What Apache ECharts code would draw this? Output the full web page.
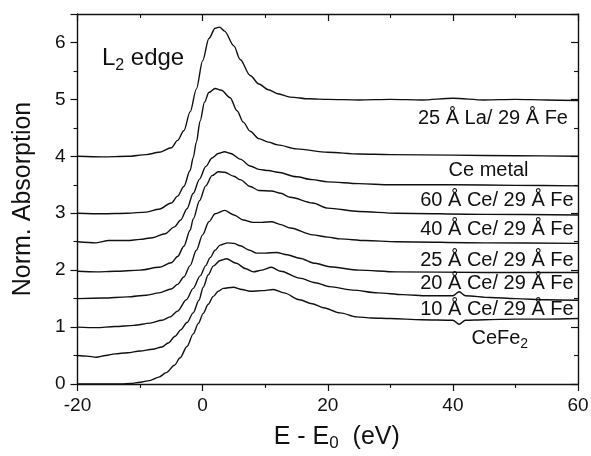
<!DOCTYPE html>
<html><head><meta charset="utf-8">
<script src="https://cdn.jsdelivr.net/npm/echarts@6/dist/echarts.min.js"></script>
<style>html,body{margin:0;padding:0;background:#fff}#c{width:591px;height:456px}</style>
</head><body><div id="c"></div>
<script>
// ---- data (E - E0 in eV, normalized absorption incl. vertical offsets) ----
const la25 = [[-20,4.0],[-16,3.99],[-12,4.0],[-9,4.03],[-7,4.07],[-5,4.15],[-4,4.28],[-3,4.45],[-2,4.78],[-1,5.18],[0,5.68],[1,6.07],[2,6.25],[2.7,6.27],[3.5,6.2],[5,5.94],[6,5.7],[7.6,5.42],[9,5.27],[10.5,5.17],[12,5.1],[14,5.04],[17,5.01],[20,5.0],[25,4.99],[30,5.0],[35,4.99],[40,5.02],[45,4.99],[50,5.0],[55,4.99],[60,4.98]];
const ceMetal = [[-20,3.0],[-16,2.99],[-12,3.0],[-9,3.02],[-7,3.07],[-5,3.18],[-4,3.3],[-3,3.47],[-2,3.75],[-1.5,3.98],[-1,4.25],[-0.4,4.62],[0.3,4.95],[1,5.12],[2,5.19],[3,5.16],[4.4,5.03],[5.5,4.8],[6.5,4.6],[7.6,4.44],[9,4.31],[10.5,4.25],[12,4.2],[15,4.13],[20,4.07],[25,4.04],[30,4.03],[40,4.02],[50,4.01],[60,4.0]];
const ce60 = [[-20,2.5],[-17,2.48],[-15,2.52],[-12,2.52],[-10,2.54],[-8,2.57],[-6,2.64],[-4.5,2.76],[-3.5,2.88],[-2.5,3.08],[-1.5,3.35],[-0.5,3.6],[0.5,3.82],[1.5,3.97],[2.5,4.05],[3.5,4.08],[4.5,4.05],[6,3.95],[7.6,3.83],[9,3.77],[10.5,3.75],[12,3.72],[15,3.64],[17.5,3.59],[20,3.55],[25,3.52],[30,3.5],[40,3.5],[50,3.49],[60,3.48]];
const ce40 = [[-20,1.98],[-17,1.97],[-14,1.98],[-10,2.0],[-7,2.05],[-5,2.13],[-4,2.24],[-3,2.42],[-2,2.7],[-1.5,2.9],[-0.5,3.22],[0.5,3.48],[1.5,3.66],[2.5,3.73],[3.5,3.72],[5,3.65],[6,3.59],[7.6,3.47],[9,3.4],[11,3.39],[12.5,3.35],[14,3.28],[17.6,3.18],[20,3.09],[25,3.03],[31,3.0],[45,2.98],[60,2.97]];
const ce25 = [[-20,1.5],[-16,1.51],[-12,1.53],[-9,1.56],[-7,1.6],[-5,1.67],[-4,1.75],[-3,1.88],[-2,2.08],[-1,2.35],[0,2.62],[1,2.85],[2,2.99],[3.5,3.05],[5,2.97],[6.5,2.88],[8,2.84],[9.5,2.84],[11,2.85],[12.5,2.8],[14,2.74],[17.6,2.62],[20,2.58],[22,2.55],[26,2.52],[31,2.5],[45,2.48],[60,2.47]];
const ce20 = [[-20,1.0],[-17,0.99],[-14,1.01],[-11,1.03],[-8.4,1.07],[-6.5,1.12],[-5.2,1.18],[-4,1.28],[-2.6,1.48],[-1.5,1.68],[-0.4,1.9],[0.5,2.08],[1.2,2.22],[2,2.35],[2.8,2.44],[4,2.48],[5,2.47],[6,2.43],[7.5,2.35],[8.6,2.3],[10,2.3],[11.8,2.31],[13.5,2.27],[15.5,2.21],[18,2.12],[20.3,2.06],[25,2.0],[31,1.97],[45,1.96],[60,1.96]];
const ce10 = [[-20,0.5],[-18.5,0.49],[-17,0.47],[-15.5,0.5],[-14,0.53],[-12,0.55],[-10,0.58],[-8,0.61],[-6.5,0.65],[-5.5,0.72],[-4.4,0.84],[-3.5,0.95],[-2.5,1.08],[-1.5,1.25],[-0.6,1.47],[0.1,1.7],[0.9,1.92],[1.7,2.07],[2.8,2.17],[3.8,2.2],[5.4,2.12],[6.8,2.03],[8.1,1.97],[9.5,2.0],[11,2.05],[12.5,1.98],[15.5,1.86],[18,1.78],[20.3,1.71],[24,1.65],[28,1.6],[32,1.57],[36,1.55],[40,1.55],[41,1.62],[42,1.55],[46,1.52],[50,1.5],[55,1.48],[60,1.47]];
const ceFe2 = [[-20,0],[-16,0],[-13,0],[-11.5,0.01],[-10,0.03],[-8.5,0.06],[-7,0.12],[-5.8,0.2],[-4.5,0.33],[-3.6,0.46],[-2.5,0.66],[-1.5,0.88],[-0.7,1.06],[0.1,1.24],[0.9,1.4],[1.7,1.54],[2.5,1.63],[3.3,1.68],[4.9,1.7],[6.3,1.66],[7.6,1.63],[9.5,1.64],[11.3,1.66],[13,1.6],[15.5,1.48],[17.5,1.41],[19.3,1.34],[22,1.25],[24.6,1.18],[27,1.16],[30,1.15],[35,1.13],[40,1.12],[41,1.05],[42,1.12],[45,1.13],[50,1.14],[55,1.14],[60,1.15]];

const curves = [la25, ceMetal, ce60, ce40, ce25, ce20, ce10, ceFe2];
const curveLabels = ['25 Å La/ 29 Å Fe','Ce metal','60 Å Ce/ 29 Å Fe','40 Å Ce/ 29 Å Fe','25 Å Ce/ 29 Å Fe','20 Å Ce/ 29 Å Fe','10 Å Ce/ 29 Å Fe','CeFe{sub|2}'];
// label anchors in data coordinates
const labelAnchorX = [58.4, 45.7, 59.3, 59.3, 59.3, 59.3, 59.3, 47.5];
const labelAnchorY = [4.67, 3.75, 3.22, 2.72, 2.17, 1.76, 1.31, 0.80];
const labelAlign = ['right','center','right','right','right','right','right','center'];
const panelTitle = 'L{sub|2} edge';
const panelTitleAnchor = [-16.1, 5.72];
const xTitle = 'E - E{sub|0}  (eV)';
const yTitle = 'Norm. Absorption';

const FONT = '"Liberation Sans", Arial, Helvetica, sans-serif';
const INK = '#111';

function mkAxisCommon(extra) {
  return Object.assign({
    type: 'value',
    axisLine: { show: true, onZero: false, lineStyle: { color: INK, width: 1.4 } },
    splitLine: { show: false },
  }, extra);
}

const annTexts = curveLabels.concat([panelTitle]);
const annX = labelAnchorX.concat([panelTitleAnchor[0]]);
const annY = labelAnchorY.concat([panelTitleAnchor[1]]);
const annAlign = labelAlign.concat(['left']);
const annSize = curveLabels.map(() => 20).concat([24]);

const option = {
  backgroundColor: '#fff',
  animation: false,
  grid: { left: 77.5, right: 13, top: 14, bottom: 72, containLabel: false, outerBoundsMode: 'none' },
  xAxis: [
    mkAxisCommon({
      position: 'bottom', min: -20, max: 60, interval: 20,
      axisTick: { show: true, inside: false, length: 7, lineStyle: { color: INK, width: 1.2 } },
      minorTick: { show: true, splitNumber: 2, length: 4, lineStyle: { color: INK, width: 1.1 } },
      axisLabel: { show: true, fontSize: 19, color: INK, fontFamily: FONT, margin: 12 },
      name: xTitle, nameLocation: 'middle', nameGap: 38,
      nameTextStyle: { fontSize: 25, color: INK, fontFamily: FONT, lineHeight: 30, padding: [0, 0, 0, 18],
        rich: { sub: { fontSize: 17, fontFamily: FONT, color: INK, verticalAlign: 'bottom', lineHeight: 14 } } }
    }),
    mkAxisCommon({
      position: 'top', min: -20, max: 60, interval: 20,
      axisTick: { show: true, inside: true, length: 7, lineStyle: { color: INK, width: 1.2 } },
      minorTick: { show: true, splitNumber: 2, length: 4, lineStyle: { color: INK, width: 1.1 } },
      axisLabel: { show: false }
    })
  ],
  yAxis: [
    mkAxisCommon({
      position: 'left', min: 0, max: 6.5, interval: 1,
      axisTick: { show: true, inside: false, length: 7, lineStyle: { color: INK, width: 1.2 } },
      minorTick: { show: true, splitNumber: 2, length: 4, lineStyle: { color: INK, width: 1.1 } },
      axisLabel: { show: true, fontSize: 19, color: INK, fontFamily: FONT, margin: 12, showMaxLabel: false,
        formatter: v => (Math.abs(v - Math.round(v)) < 1e-6 ? String(Math.round(v)) : '') },
      name: yTitle, nameLocation: 'middle', nameGap: 42, nameRotate: 90,
      nameTextStyle: { fontSize: 25, color: INK, fontFamily: FONT }
    }),
    mkAxisCommon({
      position: 'right', min: 0, max: 6.5, interval: 1,
      axisTick: { show: true, inside: true, length: 7, lineStyle: { color: INK, width: 1.2 } },
      minorTick: { show: true, splitNumber: 2, length: 4, lineStyle: { color: INK, width: 1.1 } },
      axisLabel: { show: false }
    })
  ],
  series: [
    ...curves.map(d => ({
      type: 'line', xAxisIndex: 0, yAxisIndex: 0, data: d,
      showSymbol: false, symbol: 'none', smooth: 0.3, smoothMonotone: 'x',
      lineStyle: { color: INK, width: 1.4 }, silent: true, z: 3
    })),
    {
      type: 'custom', xAxisIndex: 0, yAxisIndex: 0, silent: true, z: 5, clip: false,
      data: annX.map((x, i) => [x, annY[i]]),
      renderItem: (params, api) => {
        const i = params.dataIndex;
        const p = api.coord([api.value(0), api.value(1)]);
        const fs = annSize[i];
        return {
          type: 'text', x: p[0], y: p[1],
          style: {
            text: annTexts[i], fill: INK, fontSize: fs, fontFamily: FONT,
            align: annAlign[i], verticalAlign: 'middle', lineHeight: fs + 6,
            rich: { sub: { fill: INK, fontFamily: FONT, fontSize: Math.round(fs * 0.68), verticalAlign: 'bottom', lineHeight: Math.round(fs * 0.6) } }
          }
        };
      }
    }
  ]
};

const chart = echarts.init(document.getElementById('c'), null, { renderer: 'canvas' });
chart.setOption(option);
</script>
</body></html>
